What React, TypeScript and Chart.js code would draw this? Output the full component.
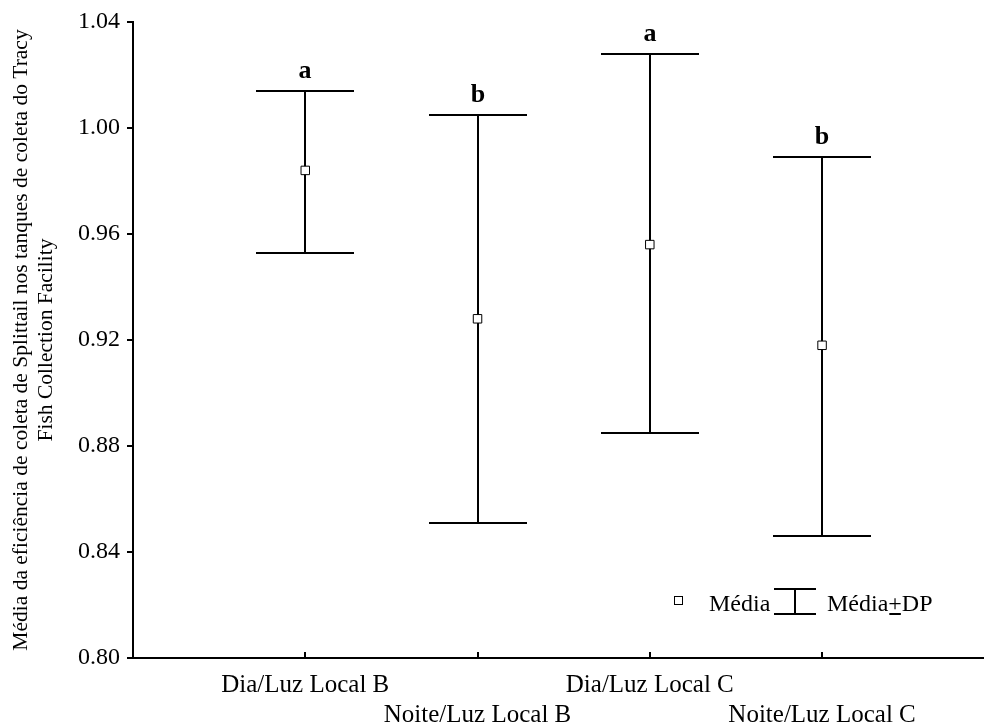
import React, { useEffect, useRef } from 'react';
import { Chart, registerables } from 'chart.js';

Chart.register(...registerables);

const CATEGORIES = ['Dia/Luz Local B', 'Noite/Luz Local B', 'Dia/Luz Local C', 'Noite/Luz Local C'];
const POSITIONS = [1, 2, 3, 4];
const MEANS = [0.984, 0.928, 0.956, 0.918];
const UPPER = [1.014, 1.005, 1.028, 0.989];
const LOWER = [0.953, 0.851, 0.885, 0.846];
const LETTERS = ['a', 'b', 'a', 'b'];
const Y_TICKS = [0.8, 0.84, 0.88, 0.92, 0.96, 1.0, 1.04];
const Y_TITLE = [
  'Média da eficiência de coleta de Splittail nos tanques de coleta do Tracy',
  'Fish Collection Facility',
];
const LEGEND_MEAN = 'Média';
const LEGEND_SD = ['Média', '+', 'DP'];

const SERIF = '"Liberation Serif", "Times New Roman", serif';

const errorBarPlugin = {
  id: 'errorBars',
  beforeDatasetsDraw(chart: any) {
    const { ctx, scales } = chart;
    const x = scales.x;
    const y = scales.y;
    ctx.save();
    ctx.strokeStyle = '#000';
    ctx.lineWidth = 2;
    ctx.fillStyle = '#000';
    ctx.font = `bold 26px ${SERIF}`;
    ctx.textAlign = 'center';
    ctx.textBaseline = 'alphabetic';
    POSITIONS.forEach((p, i) => {
      const px = Math.round(x.getPixelForValue(p));
      const yt = Math.round(y.getPixelForValue(UPPER[i]));
      const yb = Math.round(y.getPixelForValue(LOWER[i]));
      ctx.beginPath();
      ctx.moveTo(px, yt);
      ctx.lineTo(px, yb);
      ctx.moveTo(px - 49, yt);
      ctx.lineTo(px + 49, yt);
      ctx.moveTo(px - 49, yb);
      ctx.lineTo(px + 49, yb);
      ctx.stroke();
      ctx.fillText(LETTERS[i], px, yt - 13);
    });
    // inward x-axis tick marks
    const base = chart.chartArea.bottom;
    ctx.beginPath();
    POSITIONS.forEach((p) => {
      const px = Math.round(x.getPixelForValue(p));
      ctx.moveTo(px, base);
      ctx.lineTo(px, base - 6);
    });
    ctx.stroke();
    ctx.restore();
  },
  afterDraw(chart: any) {
    const { ctx } = chart;
    ctx.save();
    // mean marker
    ctx.fillStyle = '#fff';
    ctx.strokeStyle = '#000';
    ctx.lineWidth = 1;
    ctx.fillRect(674, 596, 8, 8);
    ctx.strokeRect(674.5, 596.5, 8, 8);
    ctx.fillStyle = '#000';
    ctx.font = `24px ${SERIF}`;
    ctx.textAlign = 'left';
    ctx.textBaseline = 'alphabetic';
    ctx.fillText(LEGEND_MEAN, 709, 611);
    // error bar symbol
    ctx.lineWidth = 2;
    ctx.beginPath();
    ctx.moveTo(774, 589);
    ctx.lineTo(816, 589);
    ctx.moveTo(795, 589);
    ctx.lineTo(795, 614);
    ctx.moveTo(774, 614);
    ctx.lineTo(816, 614);
    ctx.stroke();
    let tx = 827;
    ctx.fillText(LEGEND_SD[0], tx, 611);
    tx += ctx.measureText(LEGEND_SD[0]).width;
    const pw = ctx.measureText(LEGEND_SD[1]).width;
    ctx.fillText(LEGEND_SD[1], tx, 611);
    ctx.beginPath();
    ctx.moveTo(tx + 1, 614);
    ctx.lineTo(tx + pw - 1, 614);
    ctx.stroke();
    tx += pw;
    ctx.fillText(LEGEND_SD[2], tx, 611);
    ctx.restore();
  },
};

export default function App() {
  const ref = useRef<HTMLCanvasElement | null>(null);

  useEffect(() => {
    if (!ref.current) return;
    const chart = new Chart(ref.current, {
      type: 'scatter',
      data: {
        datasets: [
          {
            label: LEGEND_MEAN,
            data: POSITIONS.map((p, i) => ({ x: p, y: MEANS[i] })),
            pointStyle: 'rect',
            pointRadius: 6,
            pointBackgroundColor: '#fff',
            pointBorderColor: '#000',
            pointBorderWidth: 1,
            showLine: false,
          },
        ],
      },
      options: {
        responsive: false,
        animation: false,
        events: [],
        layout: { autoPadding: false, padding: { top: 22, right: 0, left: 0, bottom: 0 } },
        plugins: {
          legend: { display: false },
          tooltip: { enabled: false },
        },
        scales: {
          x: {
            type: 'linear',
            min: 0,
            max: 4.94,
            afterBuildTicks: (s: any) => {
              s.ticks = POSITIONS.map((v) => ({ value: v }));
            },
            afterFit: (s: any) => {
              s.height = 70;
              s.paddingLeft = 0;
              s.paddingRight = 0;
            },
            ticks: {
              autoSkip: false,
              maxRotation: 0,
              minRotation: 0,
              padding: 12,
              color: '#000',
              font: { family: SERIF, size: 25, lineHeight: 1.2 },
              callback: (_v: any, i: number) =>
                i % 2 === 0 ? [CATEGORIES[i], ''] : ['', CATEGORIES[i]],
            },
            grid: { display: false, drawTicks: false },
            border: { display: true, color: '#000', width: 2 },
          },
          y: {
            type: 'linear',
            min: 0.8,
            max: 1.04,
            afterBuildTicks: (s: any) => {
              s.ticks = Y_TICKS.map((v) => ({ value: v }));
            },
            afterFit: (s: any) => {
              s.width = 133;
            },
            ticks: {
              padding: 7,
              color: '#000',
              font: { family: SERIF, size: 24 },
              callback: (v: any) => Number(v).toFixed(2),
            },
            grid: {
              display: true,
              drawOnChartArea: false,
              drawTicks: true,
              tickLength: 6,
              color: '#000',
              lineWidth: 2,
            },
            border: { display: true, color: '#000', width: 2 },
            title: {
              display: true,
              text: Y_TITLE,
              color: '#000',
              font: { family: SERIF, size: 21.5, lineHeight: 1.15 },
              padding: { top: 9, bottom: 0 },
            },
          },
        },
      },
      plugins: [errorBarPlugin],
    });
    return () => chart.destroy();
  }, []);

  return (
    <div style={{ position: 'absolute', left: 0, top: 0, width: 984, height: 728, background: '#fff' }}>
      <canvas ref={ref} width={984} height={728} style={{ display: 'block' }} />
    </div>
  );
}
